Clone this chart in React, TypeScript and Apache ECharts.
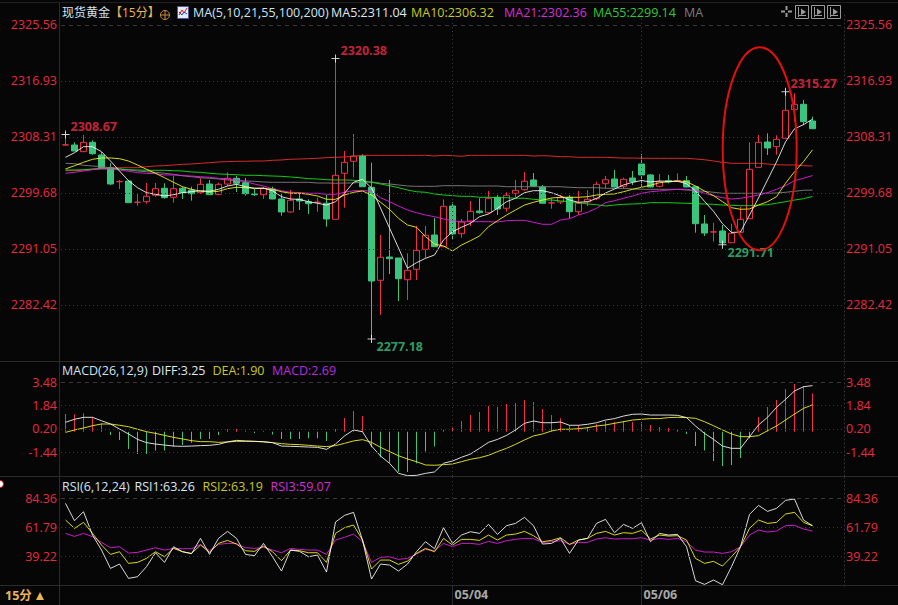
import React, { useEffect, useRef } from "react";
import * as echarts from "echarts";

const WIDTH = 898;
const HEIGHT = 605;
const BG = "#060606";
const UP = "#f0304a";
const DOWN = "#3ac47d";
const LABEL_RED = "#e8293f";
const FONT = "'Open Sans', 'Noto Sans CJK SC', sans-serif";

const mainTicks = [2325.56, 2316.93, 2308.31, 2299.68, 2291.05, 2282.42];
const macdTicks = [3.48, 1.84, 0.2, -1.44];
const rsiTicks = [84.36, 61.79, 39.22];
const dateLabels: [number, string][] = [[43, "05/04"], [64, "05/06"]];
const barCount = 87;

// open, close, low, high
const candles: number[][] = [
  [2307.07,2307.10,2306.99,2308.67],[2307.07,2306.14,2306.14,2307.48],[2306.04,2307.48,2306.04,2308.61],[2307.48,2305.73,2305.57,2307.79],
  [2305.53,2303.57,2303.52,2305.99],[2303.57,2301.06,2300.91,2304.25],[2301.41,2301.43,2300.29,2301.68],[2301.52,2298.18,2298.18,2301.63],
  [2298.24,2298.26,2297.72,2299.63],[2298.33,2299.16,2298.02,2301.21],[2299.32,2300.34,2299.10,2301.21],[2300.40,2298.95,2298.79,2301.17],
  [2299.01,2300.34,2298.18,2302.34],[2300.40,2299.72,2298.75,2300.64],[2300.13,2299.56,2298.49,2300.64],[2299.72,2301.01,2299.56,2301.94],
  [2301.06,2299.41,2299.36,2301.68],[2299.47,2301.01,2299.32,2301.26],[2301.06,2301.94,2300.75,2302.86],[2301.94,2301.17,2299.83,2302.34],
  [2301.26,2299.56,2299.26,2301.98],[2299.52,2299.41,2299.21,2300.29],[2299.41,2300.40,2298.75,2300.64],[2300.29,2298.75,2298.70,2300.64],
  [2298.75,2296.75,2296.18,2299.52],[2296.75,2298.55,2296.64,2300.13],[2298.75,2298.44,2297.05,2299.63],[2298.33,2298.02,2296.44,2298.70],
  [2298.24,2298.26,2296.79,2298.95],[2298.09,2295.67,2294.48,2299.36],[2295.62,2302.40,2295.62,2320.38],[2302.71,2304.40,2297.41,2306.14],
  [2304.56,2305.37,2302.09,2308.76],[2305.37,2300.64,2300.64,2305.64],[2300.55,2286.11,2277.18,2304.34],[2286.22,2289.77,2280.87,2293.20],
  [2289.81,2289.55,2287.19,2301.68],[2289.66,2286.47,2283.03,2289.66],[2286.31,2287.76,2283.19,2290.38],[2287.92,2290.84,2286.27,2294.63],
  [2291.00,2293.16,2289.66,2294.59],[2293.20,2291.40,2291.40,2295.82],[2291.40,2297.62,2291.31,2298.70],[2297.67,2293.36,2292.43,2298.24],
  [2293.40,2295.20,2292.79,2295.67],[2295.36,2296.85,2294.59,2298.44],[2296.90,2296.64,2296.48,2298.86],[2296.64,2298.86,2296.54,2299.98],
  [2299.01,2297.21,2296.28,2299.36],[2297.32,2299.32,2296.79,2299.78],[2299.63,2300.09,2299.01,2301.68],[2300.18,2301.48,2300.03,2302.91],
  [2301.68,2300.75,2300.64,2302.75],[2300.60,2298.09,2298.09,2300.91],[2298.13,2298.15,2297.25,2298.86],[2298.29,2298.95,2297.98,2299.36],
  [2299.01,2296.79,2295.77,2299.36],[2296.79,2298.09,2296.28,2299.98],[2298.29,2298.70,2297.67,2300.13],[2298.86,2301.01,2298.59,2301.41],
  [2301.11,2301.72,2300.40,2302.29],[2301.83,2300.60,2300.55,2303.22],[2300.70,2301.78,2300.34,2302.03],[2301.98,2301.41,2300.91,2303.06],
  [2304.14,2302.45,2300.40,2305.68],[2302.45,2300.60,2300.55,2302.60],[2300.70,2301.41,2300.55,2302.60],[2301.57,2301.37,2301.17,2302.45],
  [2301.57,2301.59,2301.37,2302.71],[2301.57,2300.60,2300.55,2302.29],[2300.64,2294.94,2293.56,2300.64],[2294.90,2293.51,2293.05,2296.28],
  [2293.66,2293.68,2292.17,2295.10],[2293.82,2291.97,2291.71,2294.74],[2292.01,2293.46,2292.01,2294.94],[2293.62,2295.62,2293.62,2297.56],
  [2295.71,2303.32,2295.71,2307.48],[2303.63,2307.48,2303.63,2308.61],[2307.53,2306.61,2305.53,2308.87],[2306.81,2307.95,2305.57,2308.56],
  [2308.10,2312.41,2308.10,2315.27],[2312.51,2313.34,2310.66,2315.03],[2313.34,2310.66,2310.15,2314.00],[2310.77,2309.58,2309.58,2311.43],
];

const ma5 = [2305.17,2305.88,2306.81,2306.81,2306.04,2304.60,2303.06,2301.57,2300.49,2299.72,2299.47,2299.21,2299.41,2299.72,2299.87,2300.03,2299.93,2300.24,2300.75,2301.01,2300.64,2300.40,2300.40,2300.03,2299.10,2298.75,2298.67,2298.33,2298.09,2297.82,2298.33,2299.63,2301.32,2301.78,2300.44,2297.36,2294.28,2291.20,2288.07,2288.93,2289.61,2290.12,2292.43,2293.71,2294.39,2295.00,2296.02,2296.44,2297.31,2298.33,2298.86,2299.72,2300.03,2300.03,2299.72,2299.21,2298.59,2298.24,2298.33,2298.82,2299.67,2300.29,2300.91,2301.31,2301.60,2301.37,2301.52,2301.47,2301.47,2301.11,2299.98,2298.39,2296.85,2294.94,2293.59,2293.66,2296.28,2298.90,2301.68,2304.45,2307.56,2309.57,2310.20,2311.04];
const ma10 = [2303.37,2303.88,2304.40,2304.86,2305.07,2305.07,2304.96,2304.60,2303.99,2303.32,2302.71,2302.03,2301.32,2300.64,2300.24,2299.93,2299.83,2299.93,2300.34,2300.55,2300.49,2300.40,2300.40,2300.24,2299.87,2299.63,2299.63,2299.47,2299.21,2298.70,2298.70,2299.36,2299.78,2299.98,2299.36,2298.24,2297.16,2295.77,2294.74,2294.39,2292.94,2291.81,2291.51,2290.73,2291.66,2292.32,2293.05,2294.48,2295.40,2296.28,2297.05,2297.82,2298.24,2298.59,2298.90,2299.01,2299.01,2299.01,2299.10,2299.36,2299.47,2299.52,2299.87,2300.24,2300.55,2300.86,2301.26,2301.41,2301.52,2301.41,2300.75,2299.98,2299.26,2298.33,2297.41,2297.16,2297.21,2297.82,2298.33,2299.10,2301.17,2302.95,2304.50,2306.32];
const ma21 = [2302.71,2302.86,2303.06,2303.26,2303.37,2303.37,2303.22,2303.02,2302.80,2302.71,2302.65,2302.45,2302.45,2302.34,2302.29,2302.18,2302.09,2301.94,2301.83,2301.68,2301.41,2301.06,2300.75,2300.34,2300.03,2299.78,2299.75,2299.63,2299.63,2299.47,2299.47,2299.78,2300.03,2300.03,2299.98,2298.95,2298.33,2297.67,2297.05,2296.64,2296.28,2296.02,2295.67,2295.40,2295.25,2295.25,2295.25,2295.25,2295.20,2295.40,2295.46,2295.46,2295.16,2294.85,2294.85,2295.51,2295.71,2296.28,2296.70,2297.31,2298.18,2298.49,2298.86,2299.21,2299.63,2299.87,2299.98,2300.13,2300.24,2300.24,2300.03,2299.63,2299.26,2298.95,2298.75,2298.86,2299.10,2299.36,2299.72,2300.24,2300.80,2301.57,2301.94,2302.36];
const ma55 = [2303.22,2303.22,2303.26,2303.37,2303.42,2303.42,2303.37,2303.26,2303.22,2303.17,2303.17,2303.17,2303.11,2303.06,2302.91,2302.86,2302.71,2302.60,2302.55,2302.49,2302.40,2302.40,2302.34,2302.29,2302.24,2302.14,2302.03,2301.88,2301.83,2301.72,2301.68,2301.68,2301.63,2301.52,2301.32,2301.06,2300.80,2300.49,2300.13,2299.87,2299.78,2299.52,2299.36,2299.26,2299.16,2299.16,2299.01,2299.01,2298.95,2298.95,2298.86,2298.86,2298.70,2298.59,2298.59,2298.44,2298.33,2298.18,2297.98,2297.87,2297.67,2297.82,2297.93,2297.98,2298.02,2298.18,2298.18,2298.18,2298.13,2298.09,2298.02,2297.98,2297.93,2297.82,2297.78,2297.72,2297.72,2297.82,2297.87,2298.09,2298.33,2298.59,2298.79,2299.14];
const ma100 = [2304.25,2304.19,2303.94,2303.83,2303.73,2303.57,2303.37,2303.22,2303.06,2302.95,2302.86,2302.71,2302.55,2302.34,2302.18,2302.03,2301.94,2301.83,2301.68,2301.57,2301.52,2301.47,2301.37,2301.32,2301.32,2301.32,2301.32,2301.32,2301.21,2301.21,2301.17,2301.21,2301.21,2301.37,2301.37,2301.17,2301.06,2300.91,2300.75,2300.70,2300.70,2300.70,2300.80,2300.80,2300.80,2300.75,2300.75,2300.75,2300.75,2300.64,2300.64,2300.64,2300.64,2300.64,2300.64,2300.64,2300.55,2300.49,2300.49,2300.49,2300.40,2300.40,2300.40,2300.29,2300.24,2300.24,2300.24,2300.24,2300.24,2300.13,2300.03,2299.93,2299.78,2299.63,2299.63,2299.63,2299.63,2299.63,2299.63,2299.67,2299.78,2299.93,2300.09,2300.13];
const ma200 = [2303.11,2303.11,2303.22,2303.32,2303.48,2303.57,2303.57,2303.57,2303.57,2303.73,2303.83,2303.88,2303.99,2304.09,2304.14,2304.25,2304.34,2304.45,2304.50,2304.56,2304.56,2304.60,2304.60,2304.71,2304.76,2304.87,2304.91,2304.96,2305.02,2305.11,2305.17,2305.22,2305.33,2305.48,2305.48,2305.48,2305.48,2305.48,2305.48,2305.48,2305.48,2305.37,2305.48,2305.42,2305.33,2305.48,2305.48,2305.48,2305.48,2305.48,2305.48,2305.48,2305.37,2305.42,2305.37,2305.26,2305.26,2305.17,2305.17,2305.17,2305.17,2305.11,2305.06,2305.06,2305.02,2305.02,2305.02,2305.02,2305.02,2305.02,2304.91,2304.80,2304.60,2304.40,2304.25,2304.25,2304.25,2304.25,2304.14,2304.03,2303.99,2303.99,2303.88,2303.83];

const macdBars = [1.25,1.23,1.30,1.02,0.60,-0.22,-0.57,-1.21,-1.56,-1.56,-1.32,-1.32,-1.04,-0.93,-0.76,-0.50,-0.50,-0.22,0.18,0.20,0.08,-0.08,0.08,-0.18,-0.50,-0.50,-0.50,-0.46,-0.46,-0.64,0.20,0.97,1.46,1.11,-1.09,-1.79,-2.17,-2.80,-2.82,-2.21,-1.39,-1.04,0.15,0.36,0.76,1.18,1.39,1.82,1.75,1.96,2.03,2.24,2.10,1.60,1.18,0.95,0.46,0.46,0.34,0.53,0.76,0.69,0.76,0.69,0.69,0.48,0.34,0.27,0.15,-0.15,-1.00,-1.32,-2.05,-2.40,-2.33,-1.84,-0.46,1.04,1.75,2.24,3.01,3.36,3.22,2.69];
const diff = [0.67,0.88,1.02,1.02,0.78,0.55,0.20,-0.15,-0.53,-0.76,-0.86,-0.93,-1.00,-1.02,-1.00,-0.97,-0.95,-0.88,-0.71,-0.60,-0.64,-0.67,-0.69,-0.76,-1.00,-1.02,-1.04,-1.07,-1.09,-1.23,-0.86,-0.29,0.13,0.01,-1.00,-1.70,-2.21,-2.92,-3.08,-3.06,-2.92,-2.82,-2.21,-2.05,-1.79,-1.56,-1.16,-0.74,-0.53,-0.25,0.13,0.60,0.76,0.64,0.64,0.69,0.46,0.46,0.53,0.64,0.83,0.93,1.11,1.23,1.25,1.18,1.18,1.18,1.16,1.00,0.41,-0.11,-0.53,-1.00,-1.16,-1.16,-0.34,0.48,1.02,1.72,2.28,2.87,3.17,3.25];
const dea = [-0.04,0.13,0.27,0.43,0.55,0.55,0.46,0.36,0.18,0.01,-0.11,-0.25,-0.39,-0.50,-0.62,-0.69,-0.69,-0.74,-0.71,-0.67,-0.67,-0.67,-0.71,-0.76,-0.83,-0.88,-0.90,-0.95,-1.00,-1.04,-0.97,-0.81,-0.64,-0.55,-0.74,-1.09,-1.39,-1.68,-1.91,-2.10,-2.33,-2.35,-2.31,-2.26,-2.10,-1.93,-1.82,-1.65,-1.39,-1.16,-0.88,-0.57,-0.29,-0.15,0.06,0.18,0.18,0.22,0.29,0.41,0.48,0.60,0.71,0.83,0.88,0.93,0.93,1.00,1.02,1.00,0.95,0.71,0.43,0.13,-0.15,-0.34,-0.34,-0.27,0.08,0.41,0.83,1.25,1.65,1.90];

const rsi1 = [80.71,67.14,74.18,55.92,44.18,29.83,33.22,22.01,23.31,31.14,42.09,34.53,46.79,42.88,41.31,53.31,40.79,53.31,58.79,53.31,40.79,39.75,49.40,38.96,27.74,44.18,43.14,38.96,40.27,26.96,66.10,71.31,73.66,52.01,21.48,33.22,32.44,27.74,33.22,42.88,50.70,45.22,61.66,49.40,55.92,58.53,57.23,64.27,56.44,63.23,65.05,69.75,63.23,48.88,49.40,53.31,41.57,52.01,53.31,65.05,68.18,57.75,64.27,61.14,65.58,50.70,57.23,55.92,56.44,46.79,20.18,17.31,20.70,17.05,31.14,46.79,72.10,79.14,74.45,76.79,83.06,84.10,67.66,63.26];
const rsi2 = [67.66,61.14,65.84,57.23,48.09,40.79,42.88,33.75,34.53,37.66,42.88,38.96,45.49,42.88,41.57,48.09,42.36,49.40,51.75,48.88,43.66,43.14,47.31,42.88,35.83,44.18,43.66,42.09,42.09,34.53,57.23,61.66,63.75,52.01,29.31,36.35,36.35,32.96,35.57,41.57,45.49,42.88,53.31,48.09,52.53,52.53,51.75,55.92,52.01,55.92,56.70,58.79,55.40,50.70,51.75,53.83,48.62,52.01,53.31,57.23,58.79,55.92,57.75,57.23,59.58,52.79,55.92,55.14,55.40,52.01,37.66,33.75,35.31,31.66,38.96,46.79,61.14,67.66,65.05,65.84,72.36,73.66,65.84,63.19];
const rsi3 = [57.23,54.88,57.23,54.62,50.18,46.01,46.79,41.83,42.36,44.18,46.01,44.18,45.49,45.22,45.22,48.62,43.66,48.62,49.40,49.14,46.01,45.49,46.27,44.18,42.09,45.49,44.70,44.18,44.18,40.79,52.01,54.10,56.70,50.70,34.53,38.44,38.96,36.88,37.66,41.05,44.70,43.66,49.40,46.79,49.40,49.40,48.62,50.96,49.40,51.49,52.53,53.31,53.05,50.18,50.70,51.49,48.62,50.18,50.18,52.79,53.83,52.79,53.05,53.05,53.83,52.01,53.31,52.53,53.31,50.70,44.18,42.62,42.62,41.57,42.88,46.79,55.92,59.84,58.27,59.07,63.23,63.49,60.62,59.07];

// bar index, price, whether it is a high (red label) or a low (green label)
const extremes: [number, number, boolean][] = [
  [0, 2308.67, true],
  [30, 2320.38, true],
  [34, 2277.18, false],
  [73, 2291.71, false],
  [80, 2315.27, true],
];

const header = [
  { text: "现货黄金", x: 62, color: "#cfe3f2", size: 12 },
  { text: "【15分】", x: 110, color: "#e8b45c", size: 12 },
  { text: "MA(5,10,21,55,100,200)", x: 193, color: "#cfe3f2" },
  { text: "MA5:2311.04", x: 331, color: "#dfe8ee" },
  { text: "MA10:2306.32", x: 411, color: "#c8c81e" },
  { text: "MA21:2302.36", x: 504, color: "#d22fd8" },
  { text: "MA55:2299.14", x: 593, color: "#2fc83a" },
  { text: "MA", x: 684, color: "#7d7d7d" },
];
const macdHeader = [
  { text: "MACD(26,12,9)", x: 62, color: "#cfe3f2" },
  { text: "DIFF:3.25", x: 152, color: "#dfe8ee" },
  { text: "DEA:1.90", x: 212.5, color: "#c8c81e" },
  { text: "MACD:2.69", x: 272, color: "#b82ae0" },
];
const rsiHeader = [
  { text: "RSI(6,12,24)", x: 62, color: "#cfe3f2" },
  { text: "RSI1:63.26", x: 134.5, color: "#dfe8ee" },
  { text: "RSI2:63.19", x: 202.5, color: "#c8c81e" },
  { text: "RSI3:59.07", x: 270.5, color: "#d22fd8" },
];

const GRID_LEFT = 61;
const GRID_WIDTH = 783;
const GRID_LINE = "#383838";
const BORDER = "#2b2b2b";

function guideSeries(xAxisIndex: number, yAxisIndex: number, ticks: number[]) {
  return {
    type: "line",
    xAxisIndex,
    yAxisIndex,
    data: [],
    z: 1,
    silent: true,
    markLine: {
      silent: true,
      symbol: "none",
      animation: false,
      label: { show: false },
      lineStyle: { color: GRID_LINE, width: 1, type: [1, 3] },
      data: [
        ...dateLabels.map(([i]) => ({ xAxis: i })),
        ...ticks.map((t, k) => ({
          yAxis: t,
          lineStyle: { color: GRID_LINE, width: 1, type: k === 0 ? [4, 4] : [1, 3] },
        })),
      ],
    },
  };
}

function lineSeries(xAxisIndex: number, yAxisIndex: number, data: number[], color: string) {
  return {
    type: "line",
    xAxisIndex,
    yAxisIndex,
    data,
    symbol: "none",
    z: 3,
    silent: true,
    lineStyle: { color, width: 0.85 },
  };
}

function yAxes(gridIndex: number, min: number, max: number, ticks: number[]) {
  const common = {
    type: "value",
    gridIndex,
    min,
    max,
    splitLine: { show: false },
    axisTick: { show: false },
  };
  const label = {
    customValues: ticks,
    color: LABEL_RED,
    fontFamily: FONT,
    fontSize: 12.5,
    formatter: (v: number) => v.toFixed(2),
  };
  return [
    { ...common, position: "left", axisLine: { show: false }, axisLabel: { ...label, margin: 4 } },
    {
      ...common,
      position: "right",
      axisLine: { show: true, lineStyle: { color: GRID_LINE, type: [1, 3] } },
      axisLabel: { ...label, margin: 2 },
    },
  ];
}

function texts(items: { text: string; x: number; color: string; size?: number }[], y: number) {
  return items.map((t) => ({
    type: "text",
    x: t.x,
    y,
    z: 20,
    silent: true,
    style: {
      text: t.text,
      fill: t.color,
      fontFamily: FONT,
      fontSize: t.size ?? 12.5,
      verticalAlign: "middle",
      textAlign: "left",
    },
  }));
}

function hLine(y: number, color = BORDER) {
  return { type: "line", z: 5, silent: true, shape: { x1: 0, y1: y, x2: WIDTH, y2: y }, style: { stroke: color, lineWidth: 1 } };
}
function vLine(x: number, y1: number, y2: number, color = BORDER) {
  return { type: "line", z: 5, silent: true, shape: { x1: x, y1, x2: x, y2 }, style: { stroke: color, lineWidth: 1 } };
}

function toolBox(x: number) {
  const c = "#9a9a9a";
  return {
    type: "group",
    x,
    y: 5,
    z: 20,
    silent: true,
    children: [
      { type: "rect", shape: { x: 0.5, y: 0.5, width: 13, height: 13 }, style: { fill: "none", stroke: c, lineWidth: 1 } },
      { type: "line", shape: { x1: 3.5, y1: 2, x2: 3.5, y2: 12 }, style: { stroke: c, lineWidth: 1 } },
      { type: "line", shape: { x1: 3.5, y1: 10.5, x2: 11, y2: 10.5 }, style: { stroke: c, lineWidth: 1 } },
      { type: "polygon", shape: { points: [[6, 3.5], [11, 7], [6, 10]] }, style: { fill: c } },
    ],
  };
}

export default function App() {
  const ref = useRef<HTMLDivElement>(null);

  useEffect(() => {
    if (!ref.current) return;
    const chart = echarts.init(ref.current, undefined, { renderer: "svg", width: WIDTH, height: HEIGHT });

    const categories = Array.from({ length: barCount }, () => "");
    dateLabels.forEach(([i, s]) => (categories[i] = s));
    const isDate = (i: number) => dateLabels.some(([k]) => k === i);

    const plainX = { type: "category", data: categories, axisLine: { show: false }, axisTick: { show: false }, axisLabel: { show: false }, splitLine: { show: false } };

    chart.setOption({
      animation: false,
      backgroundColor: BG,
      tooltip: { show: false },
      grid: [
        { left: GRID_LEFT, width: GRID_WIDTH, top: 12, height: 348 },
        { left: GRID_LEFT, width: GRID_WIDTH, top: 362, height: 114 },
        { left: GRID_LEFT, width: GRID_WIDTH, top: 477, height: 109 },
      ],
      xAxis: [
        { ...plainX, gridIndex: 0 },
        { ...plainX, gridIndex: 1 },
        {
          ...plainX,
          gridIndex: 2,
          axisTick: { show: true, alignWithLabel: true, interval: (i: number) => isDate(i), length: 19, lineStyle: { color: BORDER } },
          axisLabel: {
            show: true,
            interval: (i: number) => isDate(i),
            align: "left",
            margin: 2,
            padding: [0, 0, 0, 2],
            color: "#a6a6a6",
            fontWeight: "bold",
            fontFamily: FONT,
            fontSize: 12.5,
          },
        },
      ],
      yAxis: [
        ...yAxes(0, 2273.94, 2327.56, mainTicks),
        ...yAxes(1, -3.105, 4.908, macdTicks),
        ...yAxes(2, 16.05, 101.34, rsiTicks),
      ],
      series: [
        guideSeries(0, 0, mainTicks),
        guideSeries(1, 2, macdTicks),
        guideSeries(2, 4, rsiTicks),
        {
          type: "candlestick",
          xAxisIndex: 0,
          yAxisIndex: 0,
          data: candles,
          barWidth: 7,
          z: 2,
          silent: true,
          itemStyle: { color: BG, color0: DOWN, borderColor: UP, borderColor0: DOWN, borderWidth: 1 },
        },
        lineSeries(0, 0, ma200, "#ff3030"),
        lineSeries(0, 0, ma100, "#888888"),
        lineSeries(0, 0, ma55, "#14f014"),
        lineSeries(0, 0, ma21, "#f020f0"),
        lineSeries(0, 0, ma10, "#ffff14"),
        lineSeries(0, 0, ma5, "#ffffff"),
        {
          type: "scatter",
          xAxisIndex: 0,
          yAxisIndex: 0,
          z: 6,
          silent: true,
          symbol: "path://M0 3.5H8V4.5H0ZM3.5 0H4.5V8H3.5Z",
          symbolSize: 8,
          itemStyle: { color: "#ffffff" },
          data: extremes.map(([i, price, high]) => ({
            value: [i, price],
            label: {
              show: true,
              position: "right",
              distance: 1,
              offset: high ? [0, -8] : [0, 8],
              formatter: price.toFixed(2),
              color: high ? "#f52c46" : "#3ac47d",
              fontWeight: "bold",
              fontFamily: FONT,
              fontSize: 12.5,
            },
          })),
        },
        {
          type: "bar",
          xAxisIndex: 1,
          yAxisIndex: 2,
          barWidth: 1,
          z: 2,
          silent: true,
          data: macdBars.map((v) => ({ value: v, itemStyle: { color: v >= 0 ? UP : DOWN } })),
        },
        lineSeries(1, 2, dea, "#ffff14"),
        lineSeries(1, 2, diff, "#ffffff"),
        lineSeries(2, 4, rsi3, "#f020f0"),
        lineSeries(2, 4, rsi2, "#ffff14"),
        lineSeries(2, 4, rsi1, "#ffffff"),
      ],
      graphic: [
        hLine(2.5, "#1f1f1f"),
        hLine(361.5),
        hLine(476.5),
        hLine(585.5),
        vLine(59.5, 3, 605),
        ...texts(header, 12.5),
        ...texts(macdHeader, 370.5),
        ...texts(rsiHeader, 486.5),
        // header icons
        {
          type: "group", x: 165, y: 15, z: 20, silent: true,
          children: [
            { type: "circle", shape: { cx: 0, cy: 0, r: 4.5 }, style: { fill: "none", stroke: "#c98a3c", lineWidth: 1 } },
            { type: "line", shape: { x1: -4.5, y1: 0, x2: 4.5, y2: 0 }, style: { stroke: "#c98a3c", lineWidth: 1 } },
            { type: "line", shape: { x1: 0, y1: -4.5, x2: 0, y2: 4.5 }, style: { stroke: "#c98a3c", lineWidth: 1 } },
          ],
        },
        {
          type: "group", x: 177, y: 6, z: 20, silent: true,
          children: [
            { type: "rect", shape: { x: 0.5, y: 0.5, width: 11, height: 12 }, style: { fill: "#e6eaf4", stroke: "#4a5a9a", lineWidth: 1 } },
            { type: "polyline", shape: { points: [[2, 9], [5, 4], [7, 7], [10, 2]] }, style: { fill: "none", stroke: "#e01818", lineWidth: 1 } },
            { type: "polyline", shape: { points: [[2, 6], [5, 9], [7, 6], [10, 8]] }, style: { fill: "none", stroke: "#2040c0", lineWidth: 1 } },
          ],
        },
        {
          type: "group", x: 780, y: 5, z: 20, silent: true,
          children: [
            { type: "rect", shape: { x: 1, y: 5.5, width: 4, height: 2 }, style: { fill: "#9a9a9a" } },
            { type: "rect", shape: { x: 8, y: 5.5, width: 4, height: 2 }, style: { fill: "#9a9a9a" } },
            { type: "rect", shape: { x: 5.5, y: 1, width: 2, height: 4 }, style: { fill: "#9a9a9a" } },
            { type: "rect", shape: { x: 5.5, y: 8, width: 2, height: 4 }, style: { fill: "#9a9a9a" } },
          ],
        },
        toolBox(795),
        toolBox(811),
        toolBox(827),
        // period selector
        {
          type: "text", x: 5, y: 595.5, z: 20, silent: true,
          style: { text: "15分", fill: "#e8b45c", fontFamily: FONT, fontWeight: "bold", fontSize: 12.5, verticalAlign: "middle" },
        },
        { type: "polygon", z: 20, silent: true, shape: { points: [[36, 600], [44, 600], [40, 592]] }, style: { fill: "#e8b45c" } },
        // cursor marker on the left edge
        { type: "circle", z: 20, silent: true, shape: { cx: 0, cy: 484, r: 3.5 }, style: { fill: "#ffffff", stroke: "#e01818", lineWidth: 1 } },
        // hand-drawn ellipse
        {
          type: "ellipse",
          z: 30,
          silent: true,
          shape: { cx: 759.7, cy: 148.7, rx: 37, ry: 101.5 },
          style: { fill: "none", stroke: "#e60f0f", lineWidth: 2 },
        },
      ],
    });
    return () => chart.dispose();
  }, []);

  return (
    <>
      <style>{`html,body{margin:0;padding:0;background:${BG};}`}</style>
      <div ref={ref} style={{ width: WIDTH, height: HEIGHT }} />
    </>
  );
}
